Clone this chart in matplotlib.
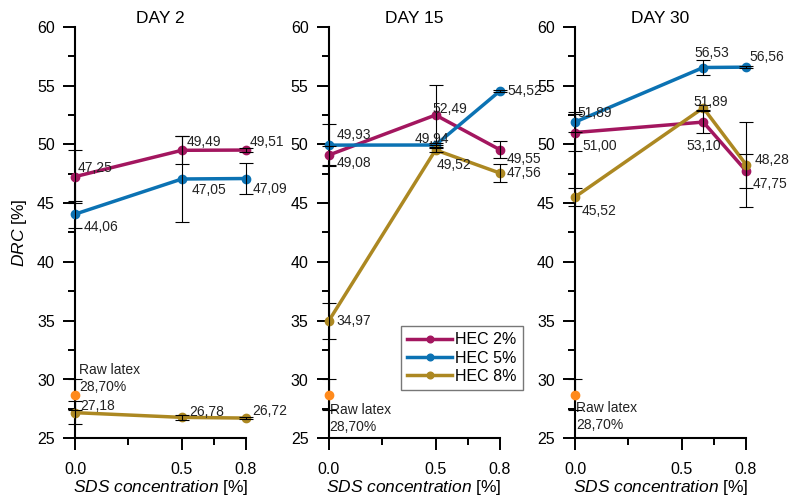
import numpy as np
import matplotlib
matplotlib.use("Agg")
import matplotlib.pyplot as plt

plt.rcParams['font.family'] = ['Liberation Sans', 'DejaVu Sans']
plt.rcParams['mathtext.fontset'] = 'custom'
plt.rcParams['mathtext.rm'] = 'Liberation Sans'
plt.rcParams['mathtext.it'] = 'Liberation Sans:italic'

# SDS concentration [%] of each sample, per day
days = ["DAY 2", "DAY 15", "DAY 30"]
sds = [[0.0, 0.5, 0.8], [0.0, 0.5, 0.8], [0.0, 0.6, 0.8]]

series = ["HEC 2%", "HEC 5%", "HEC 8%"]
# DRC [%] values: [day][series][point]
drc = [
    [[47.25, 49.49, 49.51], [44.06, 47.05, 47.09], [27.18, 26.78, 26.72]],
    [[49.08, 52.49, 49.55], [49.93, 49.94, 54.52], [34.97, 49.52, 47.56]],
    [[51.00, 51.89, 47.75], [51.89, 56.53, 56.56], [45.52, 53.10, 48.28]],
]
drc_err = [
    [[2.27, 1.2, 0.2], [1.15, 3.65, 1.3], [1.0, 0.2, 0.1]],
    [[0.8, 2.56, 0.7], [1.78, 0.15, 0.1], [1.55, 0.2, 0.8]],
    [[1.6, 0.9, 1.45], [0.85, 0.6, 0.1], [0.79, 0.2, 3.65]],
]
raw_latex = 28.70
raw_latex_err = 1.3

colors = ["#A3165F", "#0B72B3", "#AC8822"]
raw_color = "#FF8A1C"

# label offsets in pixels (dx, dy)
label_off = [
    [[(3, 9), (5, 8), (4, 8)], [(9, -13), (10, -11), (7, -10)], [(5, 7), (7, 5), (6, 7)]],
    [[(8, -8), (-3, 6), (7, -9)], [(8, 10), (-21, 6), (8, 0)], [(8, 0), (1, -15), (7, 0)]],
    [[(7, -13), (-10, 20), (7, -13)], [(2, 9), (-9, 15), (3, 10)], [(7, -14), (-17, -38), (9, 5)]],
]
raw_off = [(4, 16), (1, -24), (1, -22)]

fig = plt.figure(figsize=(7.93, 5.0), dpi=100)
lefts = [0.0946, 0.4145, 0.7251]
axes = [fig.add_axes([l, 0.1234, 0.2156, 0.8232]) for l in lefts]

for d, ax in enumerate(axes):
    x = sds[d]
    for s in range(3):
        ax.plot(x, drc[d][s], color=colors[s], lw=2.5, marker='o', ms=6,
                clip_on=False, zorder=3, label=series[s])
        ax.errorbar(x, drc[d][s], yerr=drc_err[d][s], fmt='none', ecolor='black',
                    elinewidth=0.8, capsize=5, capthick=0.8, clip_on=False, zorder=4)
        for i in range(3):
            txt = f"{drc[d][s][i]:.2f}".replace('.', ',')
            ax.annotate(txt, (x[i], drc[d][s][i]), xytext=label_off[d][s][i],
                        textcoords='offset pixels', ha='left', va='center',
                        fontsize=10, color='#222222', zorder=5, annotation_clip=False)
    ax.errorbar([0], [raw_latex], yerr=[raw_latex_err], fmt='none', ecolor='black',
                elinewidth=0.8, capsize=5, capthick=0.8, clip_on=False, zorder=4)
    ax.plot([0], [raw_latex], 'o', color=raw_color, ms=6, clip_on=False, zorder=5)
    ax.annotate("Raw latex\n" + f"{raw_latex:.2f}".replace('.', ',') + "%", (0, raw_latex),
                xytext=raw_off[d], textcoords='offset pixels', ha='left', va='center',
                fontsize=10, color='#222222', linespacing=1.3, annotation_clip=False)

    ax.set_xlim(0, 0.8)
    ax.set_ylim(25, 60)
    ax.set_xticks([0, 0.5, 0.8])
    ax.set_xticklabels(["0.0", "0.5", "0.8"])
    ax.set_xticks([0.25, 0.65], minor=True)
    ax.set_yticks(np.arange(25, 61, 5))
    ax.set_yticks(np.arange(27.5, 60, 5), minor=True)
    ax.tick_params(which='major', length=8.5, width=1.4, labelsize=11.5, pad=6)
    ax.tick_params(axis='x', which='major', pad=8.5)
    ax.tick_params(which='minor', length=5, width=1.4)
    ax.spines['top'].set_visible(False)
    ax.spines['right'].set_visible(False)
    ax.spines['left'].set_linewidth(1.5)
    ax.spines['bottom'].set_linewidth(1.5)
    ax.set_title(days[d], fontsize=12.5, pad=3)
    ax.set_xlabel(r"$\mathit{SDS\ concentration}$ [%]", fontsize=12.5, labelpad=1)

axes[0].set_ylabel(r"$\mathit{DRC}$ [%]", fontsize=12.5, labelpad=6)

leg = axes[1].legend(loc='lower left', bbox_to_anchor=(0.422, 0.117), borderaxespad=0,
                     fontsize=11.5, handlelength=2.8, handletextpad=0.2, labelspacing=0.2,
                     fancybox=False, frameon=True, borderpad=0.4, markerscale=0.8)
leg.get_frame().set_edgecolor('#555555')
leg.get_frame().set_linewidth(1.0)

fig.savefig("out.png", dpi=100)
